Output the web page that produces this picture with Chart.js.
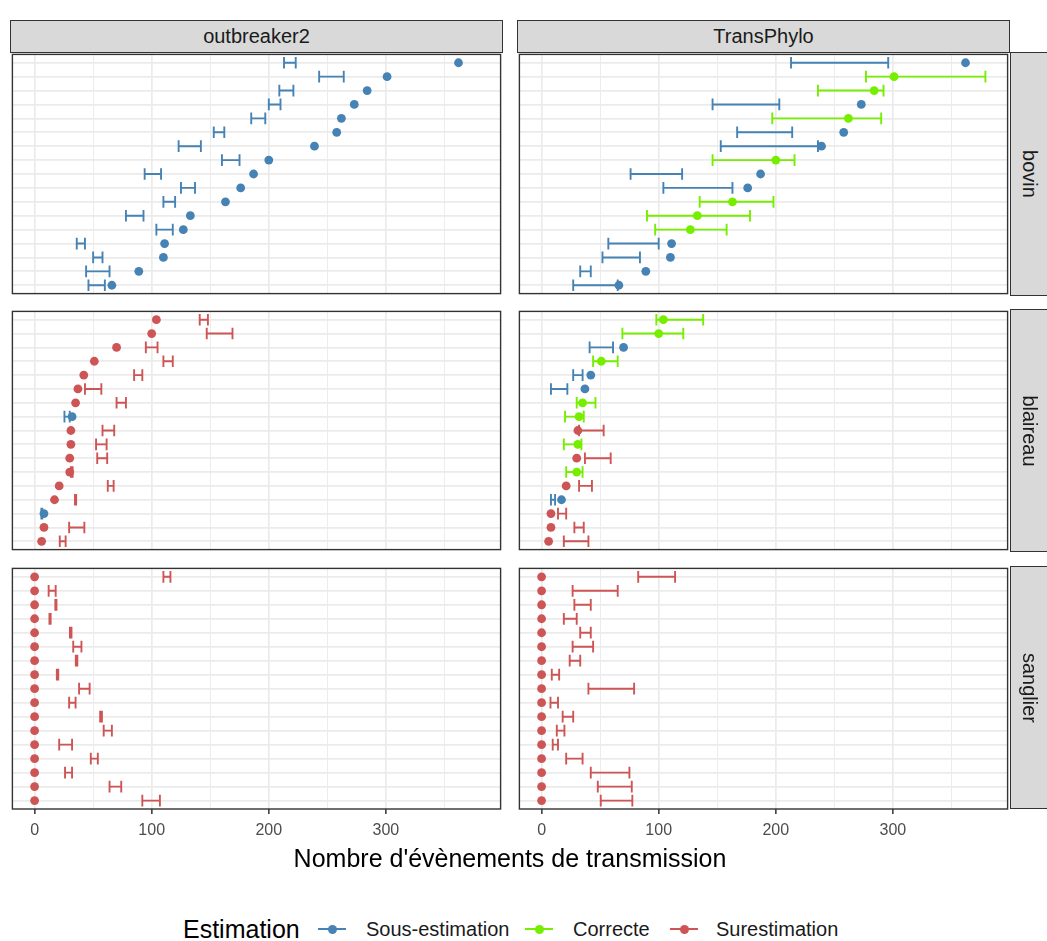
<!DOCTYPE html>
<html lang="fr">
<head>
<meta charset="utf-8">
<title>Nombre d'évènements de transmission</title>
<script src="https://cdn.jsdelivr.net/npm/chart.js@4.4.1/dist/chart.umd.min.js"></script>
<style>
  html, body { margin: 0; padding: 0; background: #fff; }
  body { width: 1047px; height: 941px; position: relative; overflow: hidden;
         font-family: 'Liberation Sans', Arial, sans-serif; }
  .panel { position: absolute; }
  .panel canvas { display: block; }
  .strip { position: absolute; box-sizing: border-box; background: #D9D9D9;
           border: 1px solid #333333; color: #1A1A1A; font-size: 20px;
           display: flex; align-items: center; justify-content: center; }
  .strip.side span { position: absolute; left: 50%; top: 50%; white-space: nowrap;
                     transform: translate(-50%, -50%) rotate(90deg); }
  .title { position: absolute; color: #000; white-space: nowrap; }
  .legend-item { position: absolute; top: 929px; transform: translateY(-50%); white-space: nowrap; }
  .key { position: absolute; top: 929px; width: 28px; height: 12px; margin-top: -6px; }
  .key .ln { position: absolute; left: 0; right: 0; top: 5px; height: 2px; }
  .key .pt { position: absolute; left: 9.5px; top: 1.5px; width: 9px; height: 9px; border-radius: 50%; }
</style>
</head>
<body>
<script>
// ---- facets ----
const methods = ['outbreaker2', 'TransPhylo'];
const hosts = ['bovin', 'blaireau', 'sanglier'];
const categories = ['Sous-estimation', 'Correcte', 'Surestimation'];
const categoryColors = ['#4682B4', '#76EE00', '#CD5555'];
const xTickValues = [0, 100, 200, 300];
const xMinorValues = [50, 150, 250, 350];
const xTitle = "Nombre d'évènements de transmission";
const legendTitle = 'Estimation';

// ---- true number of transmission events per individual (top row first) ----
const bovinTrue    = [362, 301, 284, 273, 262, 258, 239, 200, 187, 176, 163, 133, 127, 111, 110, 89, 66];
const blaireauTrue = [104, 100, 70, 51, 42, 37, 35, 32, 31, 31, 30, 30, 21, 17, 8, 8, 6];
const sanglierTrue = [0, 0, 0, 0, 0, 0, 0, 0, 0, 0, 0, 0, 0, 0, 0, 0, 0];

// ---- outbreaker2 intervals ----
const bovinOutLow  = [213, 243, 209, 200, 185, 153, 123, 160, 94, 125, 110, 78, 104, 36, 50, 44, 46];
const bovinOutHigh = [223, 264, 221, 210, 197, 162, 142, 175, 108, 137, 120, 93, 118, 43, 58, 64, 60];
const blaireauOutLow  = [141, 147, 95, 110, 85, 43, 70, 25.5, 58, 52.5, 53.5, 31, 62.5, 34.5, 5.8, 29.5, 21.5];
const blaireauOutHigh = [148, 169, 105, 118, 92, 57, 78, 30, 68, 61.5, 62, 32.5, 67.5, 35.5, 6.6, 42.5, 26.5];
const sanglierOutLow  = [110, 12, 17.7, 12.7, 30.2, 33, 35.2, 19, 38, 29.5, 56, 59, 21, 48, 26, 64, 92];
const sanglierOutHigh = [116, 18, 18.7, 13.7, 31.5, 40, 36.5, 20.2, 47, 35, 57.5, 66, 32, 54, 32, 74, 107];

// ---- TransPhylo intervals ----
const bovinTpLow  = [213, 277, 236, 146, 197, 167, 153, 146, 76, 104, 135, 90, 97, 57, 52, 33, 27];
const bovinTpHigh = [296, 379, 292, 203, 290, 214, 236, 216, 120, 163, 198, 178, 158, 100, 84, 42, 65];
const blaireauTpLow  = [98, 69, 41, 44, 27, 8, 30, 20, 32, 19, 37, 21, 32, 8, 14, 28, 19];
const blaireauTpHigh = [138, 121, 61, 65, 35, 22, 46, 36, 53, 34, 59, 35, 43, 11.5, 21, 36, 40];
const sanglierTpLow  = [82.5, 26.5, 28, 19, 33, 26.5, 24, 8.7, 40, 7.6, 18, 13, 9.5, 21, 42, 48, 50.5];
const sanglierTpHigh = [114, 65, 42, 30, 42, 44, 33, 15, 79, 14, 27, 19.5, 14, 35, 75, 77, 77.5];

const panelData = {
  bovin:    { truth: bovinTrue,    outbreaker2: [bovinOutLow, bovinOutHigh],       TransPhylo: [bovinTpLow, bovinTpHigh] },
  blaireau: { truth: blaireauTrue, outbreaker2: [blaireauOutLow, blaireauOutHigh], TransPhylo: [blaireauTpLow, blaireauTpHigh] },
  sanglier: { truth: sanglierTrue, outbreaker2: [sanglierOutLow, sanglierOutHigh], TransPhylo: [sanglierTpLow, sanglierTpHigh] }
};

// ---- layout ----
const FONT = "'Liberation Sans', Arial, sans-serif";
const colLeft = [10, 517];
const panelW = 493;
const rowTop = [52, 309, 566];
const panelH = [244, 243, 243];
const stripTop = 20, stripH = 32;
const sideStripLeft = 1010, sideStripW = 40;
const PAD = 2;          // room for the panel border stroke
const AXIS_H = 40;      // bottom axis (tick marks + labels)

// shared x range: data range with 5% expansion on each side
const allX = [];
hosts.forEach(h => {
  allX.push(...panelData[h].truth);
  methods.forEach(m => { allX.push(...panelData[h][m][0], ...panelData[h][m][1]); });
});
const dMin = Math.min(...allX), dMax = Math.max(...allX);
const xMin = dMin - 0.05 * (dMax - dMin);
const xMax = dMax + 0.05 * (dMax - dMin);

function categoryOf(truth, lo, hi) {
  if (hi < truth) return 0;
  if (lo > truth) return 2;
  return 1;
}

// horizontal error bars drawn under the points
const errorBarPlugin = {
  id: 'errorBars',
  beforeDatasetsDraw(chart, args, opts) {
    const { ctx, chartArea, scales: { x, y } } = chart;
    ctx.save();
    ctx.beginPath();
    ctx.rect(chartArea.left, chartArea.top, chartArea.right - chartArea.left, chartArea.bottom - chartArea.top);
    ctx.clip();
    ctx.lineWidth = 1.9;
    ctx.lineCap = 'butt';
    opts.low.forEach((lo, i) => {
      const hi = opts.high[i];
      const yc = y.getPixelForValue(i + 1);
      const half = Math.abs(y.getPixelForValue(i + 1 + opts.capHalf) - yc);
      const x0 = x.getPixelForValue(lo), x1 = x.getPixelForValue(hi);
      ctx.strokeStyle = opts.colors[i];
      ctx.beginPath();
      ctx.moveTo(x0, yc); ctx.lineTo(x1, yc);
      ctx.moveTo(x0, yc - half); ctx.lineTo(x0, yc + half);
      ctx.moveTo(x1, yc - half); ctx.lineTo(x1, yc + half);
      ctx.stroke();
    });
    ctx.restore();
  }
};

// panel frame
const framePlugin = {
  id: 'frame',
  afterDraw(chart) {
    const { ctx, chartArea: a } = chart;
    ctx.save();
    ctx.strokeStyle = '#333333';
    ctx.lineWidth = 1.4;
    ctx.strokeRect(a.left, a.top, a.right - a.left, a.bottom - a.top);
    ctx.restore();
  }
};

function makePanel(host, method, r, c) {
  const truth = panelData[host].truth;
  const [low, high] = panelData[host][method];
  const colors = truth.map((t, i) => categoryColors[categoryOf(t, low[i], high[i])]);
  const bottom = r === hosts.length - 1;

  const wrap = document.createElement('div');
  wrap.className = 'panel';
  wrap.style.left = (colLeft[c] - PAD) + 'px';
  wrap.style.top = (rowTop[r] - PAD) + 'px';
  const canvas = document.createElement('canvas');
  canvas.width = panelW + 2 * PAD;
  canvas.height = panelH[r] + 2 * PAD + (bottom ? AXIS_H - PAD : 0);
  wrap.appendChild(canvas);
  document.body.appendChild(wrap);

  const rows = truth.map((_, i) => i + 1);
  const gridX = [...xTickValues, ...xMinorValues].sort((a, b) => a - b);
  const isMajor = v => xTickValues.includes(v);

  new Chart(canvas, {
    type: 'scatter',
    data: {
      datasets: [{
        data: truth.map((t, i) => ({ x: t, y: i + 1 })),
        pointRadius: 4.4,
        pointHoverRadius: 4.4,
        pointBorderWidth: 0,
        pointBackgroundColor: colors,
        clip: false
      }]
    },
    options: {
      responsive: false,
      animation: false,
      events: [],
      layout: { padding: { left: PAD, right: PAD, top: PAD, bottom: bottom ? 0 : PAD } },
      plugins: {
        legend: { display: false },
        tooltip: { enabled: false },
        errorBars: { low, high, colors, capHalf: 0.42 }
      },
      scales: {
        x: {
          type: 'linear', min: xMin, max: xMax,
          afterBuildTicks: s => { s.ticks = gridX.map(v => ({ value: v })); },
          afterFit: s => { s.height = bottom ? AXIS_H : 0; },
          border: { display: false },
          grid: {
            color: '#EBEBEB',
            lineWidth: ctx => isMajor(ctx.tick.value) ? 1.7 : 0.9,
            drawTicks: bottom,
            tickLength: 5,
            tickWidth: 1.5,
            tickColor: ctx => isMajor(ctx.tick.value) ? '#333333' : 'rgba(0,0,0,0)'
          },
          ticks: {
            display: bottom,
            autoSkip: false, maxRotation: 0,
            padding: 7,
            color: '#4D4D4D',
            font: { family: FONT, size: 16 },
            callback: v => isMajor(v) ? String(v) : ''
          }
        },
        y: {
          type: 'linear', reverse: true, min: 0.4, max: truth.length + 0.6,
          afterBuildTicks: s => { s.ticks = rows.map(v => ({ value: v })); },
          afterFit: s => { s.width = 0; },
          border: { display: false },
          grid: { color: '#EBEBEB', lineWidth: 1.7, drawTicks: false },
          ticks: { display: false }
        }
      }
    },
    plugins: [errorBarPlugin, framePlugin]
  });
}

hosts.forEach((h, r) => methods.forEach((m, c) => makePanel(h, m, r, c)));

// strips
methods.forEach((m, c) => {
  const d = document.createElement('div');
  d.className = 'strip';
  d.style.left = colLeft[c] + 'px';
  d.style.top = stripTop + 'px';
  d.style.width = panelW + 'px';
  d.style.height = (stripH + 1) + 'px';
  d.textContent = m;
  document.body.appendChild(d);
});
hosts.forEach((h, r) => {
  const d = document.createElement('div');
  d.className = 'strip side';
  d.style.left = sideStripLeft + 'px';
  d.style.top = rowTop[r] + 'px';
  d.style.width = sideStripW + 'px';
  d.style.height = panelH[r] + 'px';
  const s = document.createElement('span');
  s.style.marginLeft = '-1px';
  s.textContent = h;
  d.appendChild(s);
  document.body.appendChild(d);
});

// axis title
const xt = document.createElement('div');
xt.className = 'title';
xt.style.fontSize = '25px';
xt.style.left = ((colLeft[0] + colLeft[1] + panelW) / 2) + 'px';
xt.style.top = '858px';
xt.style.transform = 'translate(-50%, -50%)';
xt.textContent = xTitle;
document.body.appendChild(xt);

// legend
const lt = document.createElement('div');
lt.className = 'legend-item';
lt.style.left = '183px';
lt.style.fontSize = '25px';
lt.textContent = legendTitle;
document.body.appendChild(lt);

const keyLeft = [318, 525, 670];
const labelLeft = [366, 573, 716];
categories.forEach((name, k) => {
  const key = document.createElement('div');
  key.className = 'key';
  key.style.left = keyLeft[k] + 'px';
  key.innerHTML = '<div class="ln"></div><div class="pt"></div>';
  key.querySelector('.ln').style.background = categoryColors[k];
  key.querySelector('.pt').style.background = categoryColors[k];
  document.body.appendChild(key);
  const lab = document.createElement('div');
  lab.className = 'legend-item';
  lab.style.left = labelLeft[k] + 'px';
  lab.style.fontSize = '20px';
  lab.style.color = '#1A1A1A';
  lab.textContent = name;
  document.body.appendChild(lab);
});
</script>
</body>
</html>
